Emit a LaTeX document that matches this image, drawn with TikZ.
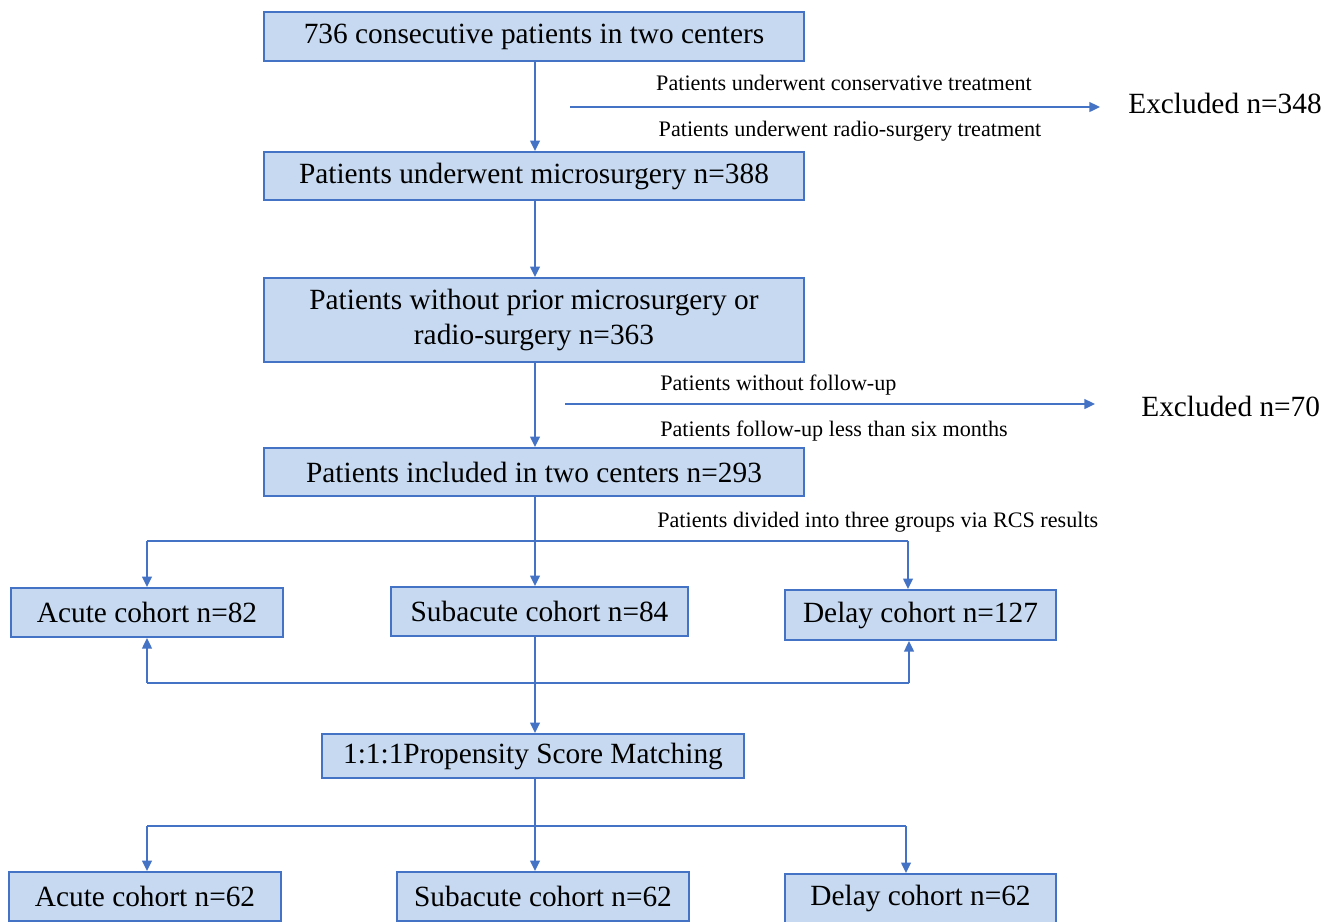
\documentclass[tikz,border=0pt]{standalone}
\usepackage{fontspec}
\setmainfont{Liberation Serif}
\usetikzlibrary{arrows.meta}
\definecolor{boxfill}{RGB}{198,217,240}
\definecolor{boxline}{RGB}{68,114,196}
\tikzset{
  box/.style={draw=boxline, fill=boxfill, line width=1.1pt, inner sep=0pt, align=center, font=\fontsize{16.7}{19.5}\selectfont},
  conn/.style={draw=boxline, line width=1.1pt},
  arr/.style={conn, -{Triangle[length=6pt,width=5.5pt]}},
  small/.style={font=\fontsize{12.6}{14}\selectfont, inner sep=0pt},
  big/.style={font=\fontsize{16.7}{19.5}\selectfont, inner sep=0pt}
}
\begin{document}
\begin{tikzpicture}[x=0.02cm,y=-0.02cm]
\useasboundingbox (0,0) rectangle (1332,921);
\begin{scope}
\clip (0,0) rectangle (1332,921);
\node[box, minimum width=10.8cm, minimum height=0.98cm] (b1) at (534,36.5) {736 consecutive patients in two centers};
\node[box, minimum width=10.8cm, minimum height=0.96cm] (b2) at (534,176) {Patients underwent microsurgery n=388};
\node[box, minimum width=10.8cm, minimum height=1.68cm] (b3) at (534,320) {Patients without prior microsurgery or\\radio-surgery n=363};
\node[box, minimum width=10.8cm, minimum height=0.96cm] (b4) at (534,472) {Patients included in two centers n=293};
\node[box, minimum width=5.44cm, minimum height=0.98cm] (b5) at (147,612.5) {Acute cohort n=82};
\node[box, minimum width=5.94cm, minimum height=0.98cm] (b6) at (539.5,611.5) {Subacute cohort n=84};
\node[box, minimum width=5.42cm, minimum height=1.0cm] (b7) at (920.5,615) {Delay cohort n=127};
\node[box, minimum width=8.44cm, minimum height=0.88cm] (b8) at (533,756) {1:1:1Propensity Score Matching};
\node[box, minimum width=5.44cm, minimum height=0.98cm] (b9) at (145,896.5) {Acute cohort n=62};
\node[box, minimum width=5.84cm, minimum height=0.98cm] (b10) at (543,896.5) {Subacute cohort n=62};
\node[box, minimum width=5.42cm, minimum height=0.98cm] (b11) at (920.5,898.5) {Delay cohort n=62};

% main spine
\draw[arr] (b1.south -| 535,0) -- (b2.north -| 535,0);
\draw[arr] (b2.south -| 535,0) -- (b3.north -| 535,0);
\draw[arr] (b3.south -| 535,0) -- (b4.north -| 535,0);

% exclusions
\node[big, anchor=west] (x1) at (1128,103) {Excluded n=348};
\coordinate (e1s) at (570,107);
\coordinate (e1e) at (1100,107);
\draw[arr] (e1s) -- (e1e);
\node[small] (t1) at (844,83) {Patients underwent conservative treatment};
\node[small] (t2) at (850,131) {Patients underwent radio-surgery treatment};

\node[big, anchor=west] (x2) at (1141,406) {Excluded n=70};
\coordinate (e2s) at (565,404);
\coordinate (e2e) at (1095,404);
\draw[arr] (e2s) -- (e2e);
\node[small, anchor=west] (t3) at (660,385) {Patients without follow-up};
\node[small, anchor=west] (t4) at (660,431) {Patients follow-up less than six months};

% split 1
\coordinate (sL) at (147,541);
\coordinate (sR) at (908,541);
\draw[conn] (sL) -- (sR);
\draw[arr] (b4.south -| 535,0) -- (b6.north -| 535,0);
\draw[arr] (sL) -- (sL |- b5.north);
\draw[arr] (sR) -- (sR |- b7.north);
\node[small, anchor=west] (t5) at (657,522) {Patients divided into three groups via RCS results};

% merge
\coordinate (mL) at (147,683);
\coordinate (mR) at (909,683);
\draw[arr] (mL) -- (mL |- b5.south);
\draw[arr] (mR) -- (mR |- b7.south);
\draw[conn] (mL) -- (mR);
\draw[arr] (b6.south -| 535,0) -- (b8.north -| 535,0);

% split 2
\coordinate (pL) at (147,826);
\coordinate (pR) at (906,826);
\draw[conn] (pL) -- (pR);
\draw[arr] (b8.south -| 535,0) -- (b10.north -| 535,0);
\draw[arr] (pL) -- (pL |- b9.north);
\draw[arr] (pR) -- (pR |- b11.north);
\end{scope}
\end{tikzpicture}
\end{document}
